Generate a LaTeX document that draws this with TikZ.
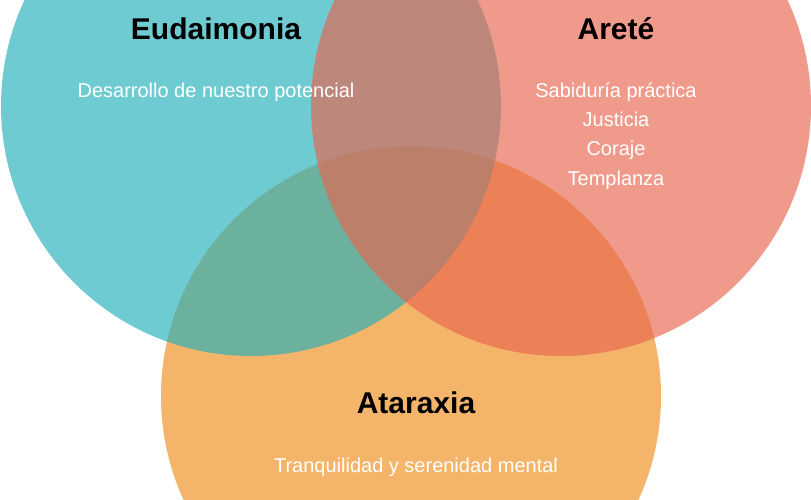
\documentclass[tikz,border=0pt]{standalone}
\usepackage{fontspec}
\setmainfont{Liberation Sans}
\definecolor{tealc}{RGB}{34,175,186}
\definecolor{salmonc}{RGB}{232,100,78}
\definecolor{orangec}{RGB}{238,141,26}
\tikzset{
  venn/.style={fill opacity=0.65, draw=none},
  title/.style={anchor=base, text=black, font=\fontsize{30}{36}\selectfont\bfseries, inner sep=0pt},
  sub/.style={anchor=base, text=white, font=\fontsize{20}{24}\selectfont, inner sep=0pt, align=center}
}
\begin{document}
\begin{tikzpicture}[x=1pt,y=-1pt]
\useasboundingbox (0,0) rectangle (811,500);
\clip (0,0) rectangle (811,500);
\fill[venn, orangec] (411,396) circle (250);
\fill[venn, tealc] (251,106) circle (250);
\fill[venn, salmonc] (561,106) circle (250);
\node[title] (eud) at (216,40) {Eudaimonia};
\node[sub] (eudt) at (216,98) {Desarrollo de nuestro potencial};
\node[title] (are) at (616,40) {Areté};
\node[sub] (are1) at (616,98) {Sabiduría práctica};
\node[sub] (are2) at (616,127) {Justicia};
\node[sub] (are3) at (616,156) {Coraje};
\node[sub] (are4) at (616,185) {Templanza};
\node[title] (ata) at (416,413) {Ataraxia};
\node[sub] (atat) at (416,472) {Tranquilidad y serenidad mental};
\end{tikzpicture}
\end{document}
